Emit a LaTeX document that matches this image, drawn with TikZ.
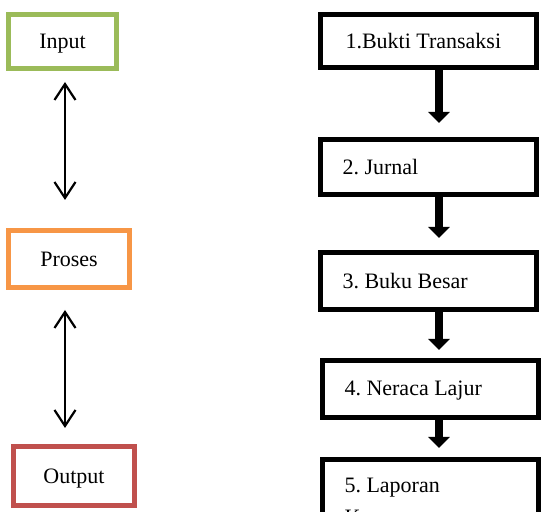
\documentclass[tikz,border=0pt]{standalone}
\usepackage{fontspec}
\setmainfont{Liberation Serif}
\usepackage{xcolor}
\usepackage{tikz}
\usetikzlibrary{arrows.meta, positioning}
\frenchspacing
\definecolor{hijau}{HTML}{9BBB59}
\definecolor{oranye}{HTML}{F79646}
\definecolor{merah}{HTML}{C0504D}
\newcommand{\isi}[1]{\parbox{86pt}{\raggedright #1}}
\tikzstyle{kotak} = [rectangle, line width=2.5pt, minimum width=60.5pt, minimum height=28.5pt, text centered, text depth=0pt, font=\fontsize{11pt}{13pt}\selectfont]
\tikzstyle{langkah} = [rectangle, draw=black, line width=2.5pt, minimum width=108pt, minimum height=28.5pt, inner xsep=11pt, font=\fontsize{11pt}{13pt}\selectfont]
\tikzstyle{dua} = [line width=1.1pt, {Straight Barb[length=8pt,width=10.5pt]}-{Straight Barb[length=8pt,width=10.5pt]}]
\tikzstyle{panah} = [line width=4pt, -{Triangle[length=5.5pt,width=10.5pt]}]

\begin{document}
\begin{tikzpicture}[x=0.5pt, y=-0.5pt]
   \useasboundingbox (0,0) rectangle (541,512);
   \clip (0,0) rectangle (541,512);
   % kiri
   \node (i) [kotak, draw=hijau, minimum width=54pt, minimum height=27pt] at (62.5,41.5) {Input};
   \node (p) [kotak, draw=oranye] at (69,259) {Proses};
   \node (o) [kotak, draw=merah, minimum height=29.5pt] at (74,476) {Output};
   \draw [dua, shorten <=5.5pt, shorten >=14pt] ([xshift=1.25pt]i.south) -- ([xshift=1.25pt]i.south |- p.north);
   \draw [dua, shorten <=10pt, shorten >=8pt] ([xshift=-2pt]p.south) -- ([xshift=-2pt]p.south |- o.north);
   % kanan
   \node (s1) [langkah, minimum height=26.5pt] at (428.5,41) {\isi{\hspace*{1.5pt}1.Bukti Transaksi}};
   \node (s2) [langkah, minimum height=27.5pt, below=33.5pt of s1] {\isi{2. Jurnal}};
   \node (s3) [langkah, below=26.5pt of s2] {\isi{3. Buku Besar}};
   \node (s4) [langkah, below=23pt of s3, xshift=1pt, minimum width=106pt] {\isi{\vspace*{2pt}4. Neraca Lajur}};
   \node (s5) [langkah, below=18.5pt of s4, minimum width=106pt, minimum height=44pt] {\isi{5. Laporan\\[3pt]Keuangan}};
   \draw [panah, shorten >=7pt] ([xshift=5.25pt]s1.south) -- ([xshift=5.25pt]s1.south |- s2.north);
   \draw [panah, shorten >=6pt] ([xshift=5.25pt]s2.south) -- ([xshift=5.25pt]s2.south |- s3.north);
   \draw [panah, shorten >=4pt] ([xshift=5.25pt]s3.south) -- ([xshift=5.25pt]s3.south |- s4.north);
   \draw [panah, shorten >=4.5pt] ([xshift=4.25pt]s4.south) -- ([xshift=4.25pt]s4.south |- s5.north);
\end{tikzpicture}
\end{document}
